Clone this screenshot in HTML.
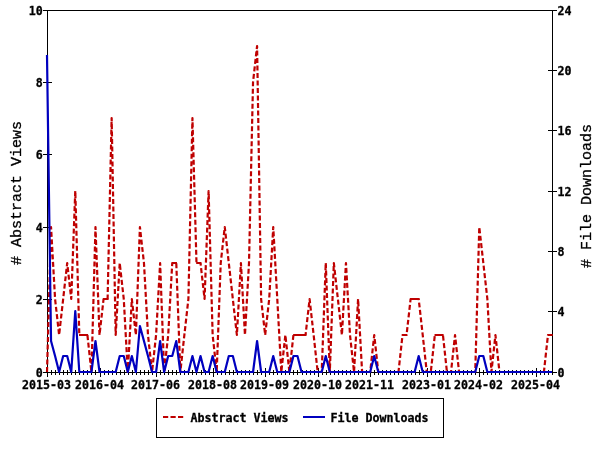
<!DOCTYPE html>
<html><head><meta charset="utf-8"><title>Abstract Views / File Downloads</title>
<style>
html,body{margin:0;padding:0;background:#fff;}
svg{display:block;}
text{font-family:'DejaVu Sans Mono','Liberation Mono',monospace;font-weight:bold;fill:#000;}
.t{font-size:11.63px;stroke:#000;stroke-width:0.3px;}
.g{font-size:15px;font-family:'Liberation Mono','DejaVu Sans Mono',monospace;font-weight:normal;stroke:#000;stroke-width:0.3px;}
</style></head><body>
<svg width="600" height="450" viewBox="0 0 600 450">
<rect x="0" y="0" width="600" height="450" fill="#fff"/>

<g stroke="#000" stroke-width="1" fill="none" shape-rendering="crispEdges">
<rect x="47.5" y="10.5" width="505" height="362"/>
<line x1="43" y1="372.5" x2="52" y2="372.5"/>
<line x1="43" y1="299.5" x2="52" y2="299.5"/>
<line x1="43" y1="227.5" x2="52" y2="227.5"/>
<line x1="43" y1="154.5" x2="52" y2="154.5"/>
<line x1="43" y1="82.5" x2="52" y2="82.5"/>
<line x1="43" y1="10.5" x2="52" y2="10.5"/>
<line x1="548" y1="372.5" x2="557" y2="372.5"/>
<line x1="548" y1="311.5" x2="557" y2="311.5"/>
<line x1="548" y1="251.5" x2="557" y2="251.5"/>
<line x1="548" y1="191.5" x2="557" y2="191.5"/>
<line x1="548" y1="130.5" x2="557" y2="130.5"/>
<line x1="548" y1="70.5" x2="557" y2="70.5"/>
<line x1="548" y1="10.5" x2="557" y2="10.5"/>
<line x1="47.5" y1="368" x2="47.5" y2="377"/>
<line x1="51.5" y1="370" x2="51.5" y2="375"/>
<line x1="55.5" y1="370" x2="55.5" y2="375"/>
<line x1="59.5" y1="370" x2="59.5" y2="375"/>
<line x1="63.5" y1="370" x2="63.5" y2="375"/>
<line x1="67.5" y1="370" x2="67.5" y2="375"/>
<line x1="71.5" y1="370" x2="71.5" y2="375"/>
<line x1="75.5" y1="370" x2="75.5" y2="375"/>
<line x1="79.5" y1="370" x2="79.5" y2="375"/>
<line x1="83.5" y1="370" x2="83.5" y2="375"/>
<line x1="87.5" y1="370" x2="87.5" y2="375"/>
<line x1="91.5" y1="370" x2="91.5" y2="375"/>
<line x1="95.5" y1="370" x2="95.5" y2="375"/>
<line x1="100.5" y1="368" x2="100.5" y2="377"/>
<line x1="104.5" y1="370" x2="104.5" y2="375"/>
<line x1="108.5" y1="370" x2="108.5" y2="375"/>
<line x1="112.5" y1="370" x2="112.5" y2="375"/>
<line x1="116.5" y1="370" x2="116.5" y2="375"/>
<line x1="120.5" y1="370" x2="120.5" y2="375"/>
<line x1="124.5" y1="370" x2="124.5" y2="375"/>
<line x1="128.5" y1="370" x2="128.5" y2="375"/>
<line x1="132.5" y1="370" x2="132.5" y2="375"/>
<line x1="136.5" y1="370" x2="136.5" y2="375"/>
<line x1="140.5" y1="370" x2="140.5" y2="375"/>
<line x1="144.5" y1="370" x2="144.5" y2="375"/>
<line x1="148.5" y1="370" x2="148.5" y2="375"/>
<line x1="152.5" y1="370" x2="152.5" y2="375"/>
<line x1="156.5" y1="368" x2="156.5" y2="377"/>
<line x1="160.5" y1="370" x2="160.5" y2="375"/>
<line x1="164.5" y1="370" x2="164.5" y2="375"/>
<line x1="168.5" y1="370" x2="168.5" y2="375"/>
<line x1="172.5" y1="370" x2="172.5" y2="375"/>
<line x1="176.5" y1="370" x2="176.5" y2="375"/>
<line x1="180.5" y1="370" x2="180.5" y2="375"/>
<line x1="184.5" y1="370" x2="184.5" y2="375"/>
<line x1="188.5" y1="370" x2="188.5" y2="375"/>
<line x1="192.5" y1="370" x2="192.5" y2="375"/>
<line x1="196.5" y1="370" x2="196.5" y2="375"/>
<line x1="201.5" y1="370" x2="201.5" y2="375"/>
<line x1="205.5" y1="370" x2="205.5" y2="375"/>
<line x1="209.5" y1="370" x2="209.5" y2="375"/>
<line x1="213.5" y1="368" x2="213.5" y2="377"/>
<line x1="217.5" y1="370" x2="217.5" y2="375"/>
<line x1="221.5" y1="370" x2="221.5" y2="375"/>
<line x1="225.5" y1="370" x2="225.5" y2="375"/>
<line x1="229.5" y1="370" x2="229.5" y2="375"/>
<line x1="233.5" y1="370" x2="233.5" y2="375"/>
<line x1="237.5" y1="370" x2="237.5" y2="375"/>
<line x1="241.5" y1="370" x2="241.5" y2="375"/>
<line x1="245.5" y1="370" x2="245.5" y2="375"/>
<line x1="249.5" y1="370" x2="249.5" y2="375"/>
<line x1="253.5" y1="370" x2="253.5" y2="375"/>
<line x1="257.5" y1="370" x2="257.5" y2="375"/>
<line x1="261.5" y1="370" x2="261.5" y2="375"/>
<line x1="265.5" y1="368" x2="265.5" y2="377"/>
<line x1="269.5" y1="370" x2="269.5" y2="375"/>
<line x1="273.5" y1="370" x2="273.5" y2="375"/>
<line x1="277.5" y1="370" x2="277.5" y2="375"/>
<line x1="281.5" y1="370" x2="281.5" y2="375"/>
<line x1="285.5" y1="370" x2="285.5" y2="375"/>
<line x1="289.5" y1="370" x2="289.5" y2="375"/>
<line x1="293.5" y1="370" x2="293.5" y2="375"/>
<line x1="297.5" y1="370" x2="297.5" y2="375"/>
<line x1="302.5" y1="370" x2="302.5" y2="375"/>
<line x1="306.5" y1="370" x2="306.5" y2="375"/>
<line x1="310.5" y1="370" x2="310.5" y2="375"/>
<line x1="314.5" y1="370" x2="314.5" y2="375"/>
<line x1="318.5" y1="368" x2="318.5" y2="377"/>
<line x1="322.5" y1="370" x2="322.5" y2="375"/>
<line x1="326.5" y1="370" x2="326.5" y2="375"/>
<line x1="330.5" y1="370" x2="330.5" y2="375"/>
<line x1="334.5" y1="370" x2="334.5" y2="375"/>
<line x1="338.5" y1="370" x2="338.5" y2="375"/>
<line x1="342.5" y1="370" x2="342.5" y2="375"/>
<line x1="346.5" y1="370" x2="346.5" y2="375"/>
<line x1="350.5" y1="370" x2="350.5" y2="375"/>
<line x1="354.5" y1="370" x2="354.5" y2="375"/>
<line x1="358.5" y1="370" x2="358.5" y2="375"/>
<line x1="362.5" y1="370" x2="362.5" y2="375"/>
<line x1="366.5" y1="370" x2="366.5" y2="375"/>
<line x1="370.5" y1="368" x2="370.5" y2="377"/>
<line x1="374.5" y1="370" x2="374.5" y2="375"/>
<line x1="378.5" y1="370" x2="378.5" y2="375"/>
<line x1="382.5" y1="370" x2="382.5" y2="375"/>
<line x1="386.5" y1="370" x2="386.5" y2="375"/>
<line x1="390.5" y1="370" x2="390.5" y2="375"/>
<line x1="394.5" y1="370" x2="394.5" y2="375"/>
<line x1="398.5" y1="370" x2="398.5" y2="375"/>
<line x1="403.5" y1="370" x2="403.5" y2="375"/>
<line x1="407.5" y1="370" x2="407.5" y2="375"/>
<line x1="411.5" y1="370" x2="411.5" y2="375"/>
<line x1="415.5" y1="370" x2="415.5" y2="375"/>
<line x1="419.5" y1="370" x2="419.5" y2="375"/>
<line x1="423.5" y1="370" x2="423.5" y2="375"/>
<line x1="427.5" y1="368" x2="427.5" y2="377"/>
<line x1="431.5" y1="370" x2="431.5" y2="375"/>
<line x1="435.5" y1="370" x2="435.5" y2="375"/>
<line x1="439.5" y1="370" x2="439.5" y2="375"/>
<line x1="443.5" y1="370" x2="443.5" y2="375"/>
<line x1="447.5" y1="370" x2="447.5" y2="375"/>
<line x1="451.5" y1="370" x2="451.5" y2="375"/>
<line x1="455.5" y1="370" x2="455.5" y2="375"/>
<line x1="459.5" y1="370" x2="459.5" y2="375"/>
<line x1="463.5" y1="370" x2="463.5" y2="375"/>
<line x1="467.5" y1="370" x2="467.5" y2="375"/>
<line x1="471.5" y1="370" x2="471.5" y2="375"/>
<line x1="475.5" y1="370" x2="475.5" y2="375"/>
<line x1="479.5" y1="368" x2="479.5" y2="377"/>
<line x1="483.5" y1="370" x2="483.5" y2="375"/>
<line x1="487.5" y1="370" x2="487.5" y2="375"/>
<line x1="491.5" y1="370" x2="491.5" y2="375"/>
<line x1="495.5" y1="370" x2="495.5" y2="375"/>
<line x1="499.5" y1="370" x2="499.5" y2="375"/>
<line x1="504.5" y1="370" x2="504.5" y2="375"/>
<line x1="508.5" y1="370" x2="508.5" y2="375"/>
<line x1="512.5" y1="370" x2="512.5" y2="375"/>
<line x1="516.5" y1="370" x2="516.5" y2="375"/>
<line x1="520.5" y1="370" x2="520.5" y2="375"/>
<line x1="524.5" y1="370" x2="524.5" y2="375"/>
<line x1="528.5" y1="370" x2="528.5" y2="375"/>
<line x1="532.5" y1="370" x2="532.5" y2="375"/>
<line x1="536.5" y1="368" x2="536.5" y2="377"/>
<line x1="540.5" y1="370" x2="540.5" y2="375"/>
<line x1="544.5" y1="370" x2="544.5" y2="375"/>
<line x1="548.5" y1="370" x2="548.5" y2="375"/>
<line x1="552.5" y1="370" x2="552.5" y2="375"/>
</g>
<polyline points="47.00,372.00 51.04,227.00 55.08,299.00 59.12,335.00 63.16,299.00 67.20,263.00 71.24,299.00 75.28,191.00 79.32,335.00 83.36,335.00 87.40,335.00 91.44,372.00 95.48,227.00 99.52,335.00 103.56,299.00 107.60,299.00 111.64,118.00 115.68,335.00 119.72,263.00 123.76,299.00 127.80,372.00 131.84,299.00 135.88,335.00 139.92,227.00 143.96,263.00 148.00,335.00 152.04,372.00 156.08,335.00 160.12,263.00 164.16,372.00 168.20,335.00 172.24,263.00 176.28,263.00 180.32,372.00 184.36,335.00 188.40,299.00 192.44,118.00 196.48,263.00 200.52,263.00 204.56,299.00 208.60,191.00 212.64,335.00 216.68,372.00 220.72,263.00 224.76,227.00 228.80,263.00 232.84,299.00 236.88,335.00 240.92,263.00 244.96,335.00 249.00,263.00 253.04,82.00 257.08,46.00 261.12,299.00 265.16,335.00 269.20,299.00 273.24,227.00 277.28,299.00 281.32,372.00 285.36,335.00 289.40,372.00 293.44,335.00 297.48,335.00 301.52,335.00 305.56,335.00 309.60,299.00 313.64,335.00 317.68,372.00 321.72,372.00 325.76,263.00 329.80,372.00 333.84,263.00 337.88,299.00 341.92,335.00 345.96,263.00 350.00,335.00 354.04,372.00 358.08,299.00 362.12,372.00 366.16,372.00 370.20,372.00 374.24,335.00 378.28,372.00 382.32,372.00 386.36,372.00 390.40,372.00 394.44,372.00 398.48,372.00 402.52,335.00 406.56,335.00 410.60,299.00 414.64,299.00 418.68,299.00 422.72,335.00 426.76,372.00 430.80,372.00 434.84,335.00 438.88,335.00 442.92,335.00 446.96,372.00 451.00,372.00 455.04,335.00 459.08,372.00 463.12,372.00 467.16,372.00 471.20,372.00 475.24,372.00 479.28,227.00 483.32,263.00 487.36,299.00 491.40,372.00 495.44,335.00 499.48,372.00 503.52,372.00 507.56,372.00 511.60,372.00 515.64,372.00 519.68,372.00 523.72,372.00 527.76,372.00 531.80,372.00 535.84,372.00 539.88,372.00 543.92,372.00 547.96,335.00 552.00,335.00" fill="none" stroke="#bf0000" stroke-width="2.2" stroke-dasharray="5 2.5" stroke-linejoin="round"/>
<path d="M79.02,335.00H84.06M83.06,335.00H88.10M103.26,299.00H108.30M171.94,263.00H176.98M196.18,263.00H201.22M293.14,335.00H298.18M297.18,335.00H302.22M301.22,335.00H306.26M402.22,335.00H407.26M410.30,299.00H415.34M414.34,299.00H419.38M434.54,335.00H439.58M438.58,335.00H443.62M547.66,335.00H552.70" fill="none" stroke="#bf0000" stroke-width="2.2"/>
<polyline points="47.00,55.00 51.04,341.00 55.08,356.00 59.12,372.00 63.16,356.00 67.20,356.00 71.24,372.00 75.28,311.00 79.32,372.00 83.36,372.00 87.40,372.00 91.44,372.00 95.48,341.00 99.52,372.00 103.56,372.00 107.60,372.00 111.64,372.00 115.68,372.00 119.72,356.00 123.76,356.00 127.80,372.00 131.84,356.00 135.88,372.00 139.92,326.00 143.96,341.00 148.00,356.00 152.04,372.00 156.08,372.00 160.12,341.00 164.16,372.00 168.20,356.00 172.24,356.00 176.28,341.00 180.32,372.00 184.36,372.00 188.40,372.00 192.44,356.00 196.48,372.00 200.52,356.00 204.56,372.00 208.60,372.00 212.64,356.00 216.68,372.00 220.72,372.00 224.76,372.00 228.80,356.00 232.84,356.00 236.88,372.00 240.92,372.00 244.96,372.00 249.00,372.00 253.04,372.00 257.08,341.00 261.12,372.00 265.16,372.00 269.20,372.00 273.24,356.00 277.28,372.00 281.32,372.00 285.36,372.00 289.40,372.00 293.44,356.00 297.48,356.00 301.52,372.00 305.56,372.00 309.60,372.00 313.64,372.00 317.68,372.00 321.72,372.00 325.76,356.00 329.80,372.00 333.84,372.00 337.88,372.00 341.92,372.00 345.96,372.00 350.00,372.00 354.04,372.00 358.08,372.00 362.12,372.00 366.16,372.00 370.20,372.00 374.24,356.00 378.28,372.00 382.32,372.00 386.36,372.00 390.40,372.00 394.44,372.00 398.48,372.00 402.52,372.00 406.56,372.00 410.60,372.00 414.64,372.00 418.68,356.00 422.72,372.00 426.76,372.00 430.80,372.00 434.84,372.00 438.88,372.00 442.92,372.00 446.96,372.00 451.00,372.00 455.04,372.00 459.08,372.00 463.12,372.00 467.16,372.00 471.20,372.00 475.24,372.00 479.28,356.00 483.32,356.00 487.36,372.00 491.40,372.00 495.44,372.00 499.48,372.00 503.52,372.00 507.56,372.00 511.60,372.00 515.64,372.00 519.68,372.00 523.72,372.00 527.76,372.00 531.80,372.00 535.84,372.00 539.88,372.00 543.92,372.00 547.96,372.00 552.00,372.00" fill="none" stroke="#0000bf" stroke-width="2.2" stroke-linejoin="round"/>
<text class="t" x="42.8" y="376.6" text-anchor="end">0</text>
<text class="t" x="42.8" y="303.6" text-anchor="end">2</text>
<text class="t" x="42.8" y="231.6" text-anchor="end">4</text>
<text class="t" x="42.8" y="158.6" text-anchor="end">6</text>
<text class="t" x="42.8" y="86.6" text-anchor="end">8</text>
<text class="t" x="42.8" y="14.6" text-anchor="end">10</text>
<text class="t" x="557.5" y="376.6">0</text>
<text class="t" x="557.5" y="315.6">4</text>
<text class="t" x="557.5" y="255.6">8</text>
<text class="t" x="557.5" y="195.6">12</text>
<text class="t" x="557.5" y="134.6">16</text>
<text class="t" x="557.5" y="74.6">20</text>
<text class="t" x="557.5" y="14.6">24</text>
<text class="t" x="46.5" y="389" text-anchor="middle">2015-03</text>
<text class="t" x="99.5" y="389" text-anchor="middle">2016-04</text>
<text class="t" x="155.5" y="389" text-anchor="middle">2017-06</text>
<text class="t" x="212.5" y="389" text-anchor="middle">2018-08</text>
<text class="t" x="264.5" y="389" text-anchor="middle">2019-09</text>
<text class="t" x="317.5" y="389" text-anchor="middle">2020-10</text>
<text class="t" x="369.5" y="389" text-anchor="middle">2021-11</text>
<text class="t" x="426.5" y="389" text-anchor="middle">2023-01</text>
<text class="t" x="478.5" y="389" text-anchor="middle">2024-02</text>
<text class="t" x="535.5" y="389" text-anchor="middle">2025-04</text>
<text class="g" transform="translate(21,265) rotate(-90)"># Abstract Views</text>
<text class="g" transform="translate(591,268) rotate(-90)"># File Downloads</text>
<rect x="156.5" y="398.5" width="287" height="39" fill="#fff" stroke="#000" stroke-width="1" shape-rendering="crispEdges"/>
<line x1="163" y1="417" x2="183.5" y2="417" stroke="#bf0000" stroke-width="2" stroke-dasharray="5.2 2.3"/>
<text class="t" x="190.5" y="422">Abstract Views</text>
<line x1="303" y1="417" x2="325" y2="417" stroke="#0000bf" stroke-width="2"/>
<text class="t" x="330.5" y="422">File Downloads</text>
</svg></body></html>
